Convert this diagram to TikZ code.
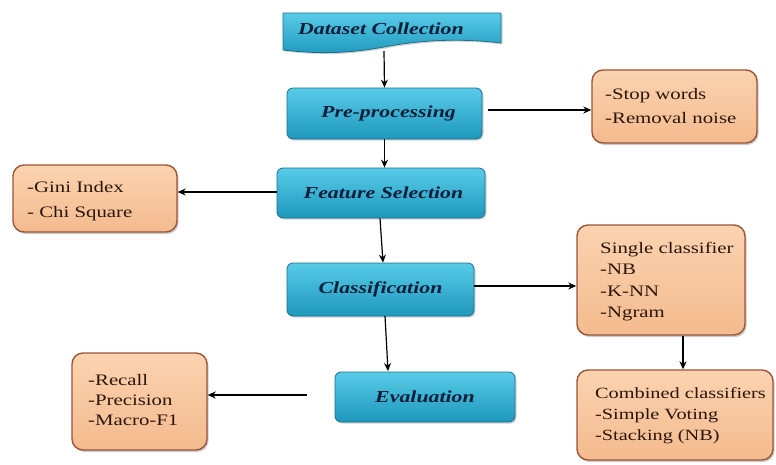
\documentclass[tikz,border=0pt]{standalone}
\usepackage{fontspec}
\setmainfont[FakeStretch=1.3]{Liberation Serif}
\usetikzlibrary{shadows,arrows.meta}
\definecolor{bluetop}{HTML}{58CBE8}
\definecolor{bluebot}{HTML}{1E98BC}
\definecolor{blueedge}{HTML}{1B6F8C}
\definecolor{bluetext}{HTML}{0E1E3A}
\definecolor{peachtop}{HTML}{FBD3B0}
\definecolor{peachbot}{HTML}{F4BA8E}
\definecolor{peachedge}{HTML}{9A5536}
\definecolor{peachtext}{HTML}{2A160C}
\tikzset{
  bluebox/.style={rounded corners=6pt, draw=blueedge, line width=0.8pt,
    top color=bluetop, bottom color=bluebot,
    drop shadow={shadow xshift=1.5pt, shadow yshift=-1.5pt, opacity=0.35},
    text=bluetext, font=\fontsize{16.8}{20}\selectfont\bfseries\itshape,
    inner sep=0pt},
  peachbox/.style={rounded corners=11pt, draw=peachedge, line width=1.4pt,
    top color=peachtop, bottom color=peachbot,
    drop shadow={shadow xshift=1.5pt, shadow yshift=-2pt, opacity=0.4},
    inner sep=0pt},
  peachtxt/.style={text=peachtext, align=left, anchor=north west, inner sep=0pt,
    font=\fontsize{16}{#1}\selectfont},
  conn/.style={-{Stealth[length=8pt,width=7pt]}, line width=1.2pt, black}
}
\begin{document}
\begin{tikzpicture}[x=1pt,y=-1pt]
\useasboundingbox (0,0) rectangle (776,464);
% Dataset collection (tape shape)
\path[draw=blueedge, line width=0.8pt, top color=bluetop, bottom color=bluebot,
  drop shadow={shadow xshift=1.5pt, shadow yshift=-1.5pt, opacity=0.35}]
  (283,13) -- (501,13) -- (501,43)
  .. controls (460,38) and (420,40) .. (384,47)
  .. controls (340,55) and (310,53) .. (283,50) -- cycle;
\node[text=bluetext, font=\fontsize{16.8}{20}\selectfont\bfseries\itshape] (dc) at (381,29) {Dataset Collection};
\coordinate (dcb) at (384,51);
% main boxes
\node[bluebox, minimum width=195pt, minimum height=51pt] (pre) at (384.5,113.5) {\hspace*{8pt}Pre-processing};
\node[bluebox, minimum width=208pt, minimum height=50pt] (fs) at (381,193) {\hspace*{5pt}Feature Selection};
\node[bluebox, minimum width=187pt, minimum height=53pt] (cls) at (380.5,289.5) {Classification};
\node[bluebox, minimum width=180pt, minimum height=50pt] (ev) at (425,397) {Evaluation};
% peach boxes
\node[peachbox, minimum width=165pt, minimum height=73pt] (stop) at (674.5,106.5) {};
\node[peachtxt=24] (stopt) at (605,88) {-Stop words\\-Removal noise};
\node[peachbox, minimum width=164pt, minimum height=67pt] (gini) at (95,198.5) {};
\node[peachtxt=25] (ginit) at (27,181) {-Gini Index\\- Chi Square};
\node[peachbox, minimum width=168pt, minimum height=110pt] (single) at (661,280) {};
\node[peachtxt=21.5] (singlet) at (600,242) {Single classifier\\-NB\\-K-NN\\-Ngram};
\node[peachbox, minimum width=196pt, minimum height=90pt] (comb) at (675,415) {};
\node[peachtxt=21, font=\fontsize{15.6}{21}\selectfont] (combt) at (595,387) {Combined classifiers\\-Simple Voting\\-Stacking (NB)};
\node[peachbox, minimum width=135pt, minimum height=97pt] (rec) at (139.5,401.5) {};
\node[peachtxt=20] (rect) at (88,374) {-Recall\\-Precision\\-Macro-F1};
% connectors
\draw[conn] (dcb) -- (pre.north);
\draw[conn] (pre.south) -- (fs.north -| pre.south);
\draw[conn] (fs.south) ++(-1,0) -- (cls.north -| 383,0);
\draw[conn] (385,316) -- (388,371);
\draw[conn] ([xshift=6pt]pre.east |- 0,110) -- (stop.west |- 0,110);
\draw[conn] (fs.west |- 0,192) -- (gini.east |- 0,192);
\draw[conn] (cls.east |- 0,286) -- (single.west |- 0,286);
\draw[conn] (single.south -| 683,0) -- (comb.north -| 683,0);
\draw[conn] ([xshift=-28pt]ev.west |- 0,395) -- (rec.east |- 0,395);
\end{tikzpicture}
\end{document}
